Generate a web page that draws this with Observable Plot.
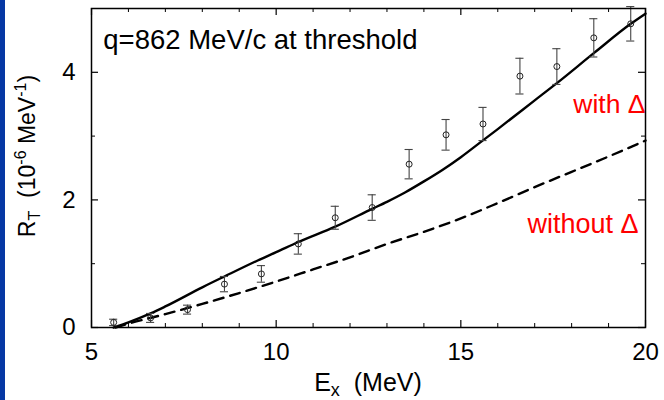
<!DOCTYPE html>
<html><head><meta charset="utf-8">
<script src="https://cdn.jsdelivr.net/npm/d3@7"></script>
<script src="https://cdn.jsdelivr.net/npm/@observablehq/plot@0.6"></script>
<style>
body{margin:0;background:#fff;}
#wrap{position:relative;width:664px;height:400px;overflow:hidden;}
#bar{position:absolute;left:0;top:0;width:5px;height:400px;background:#0638a4;}
svg{position:absolute;left:0;top:0;}
</style></head><body><div id="wrap"><div id="bar"></div></div>
<script>
// measured data points
const ex  = [5.6, 6.6, 7.6, 8.6, 9.6, 10.6, 11.6, 12.6, 13.6, 14.6, 15.6, 16.6, 17.6, 18.6, 19.6];
const rt  = [0.08, 0.15, 0.28, 0.68, 0.84, 1.31, 1.72, 1.88, 2.56, 3.02, 3.19, 3.94, 4.09, 4.54, 4.76];
const err = [0.05, 0.07, 0.07, 0.12, 0.13, 0.16, 0.18, 0.20, 0.23, 0.24, 0.26, 0.28, 0.28, 0.30, 0.27];
// curve "with Delta"
const withX = [5.6, 6.0, 6.6, 7.0, 8.0, 8.6, 9.5, 10.0, 10.6, 11.6, 12.6, 13.0, 13.5, 14.0, 14.5, 15.0, 15.5, 16.0, 17.0, 17.6, 18.6, 19.6, 20.0];
const withY = [0, 0.08, 0.22, 0.33, 0.63, 0.80, 1.05, 1.18, 1.34, 1.58, 1.86, 1.97, 2.12, 2.29, 2.47, 2.67, 2.89, 3.11, 3.56, 3.83, 4.30, 4.76, 4.92];
// curve "without Delta"
const woX = [5.65, 6.0, 7.0, 8.0, 9.0, 10.0, 11.0, 12.0, 13.0, 14.0, 15.0, 16.0, 17.0, 18.0, 19.0, 20.0];
const woY = [0, 0.06, 0.21, 0.37, 0.54, 0.72, 0.91, 1.10, 1.31, 1.50, 1.71, 1.95, 2.20, 2.44, 2.68, 2.93];
// ticks
const xMajor = [5, 10, 15, 20];
const xMinor = [6, 7, 8, 9, 11, 12, 13, 14, 16, 17, 18, 19];
const yMajor = [0, 2, 4];
const yMinor = [1, 3];
const titleText = "q=862 MeV/c at threshold";
const withLabel = "with Δ";
const withoutLabel = "without Δ";

const W = 664, H = 400, mL = 91, mR = 19, mT = 8, mB = 73;
const pw = W - mL - mR, ph = H - mT - mB;
const font = '"Liberation Sans", Arial, Helvetica, sans-serif';

const pts = ex.map((x, i) => ({x, y: rt[i], e: err[i]}));
const withD = withX.map((x, i) => ({x, y: withY[i]}));
const woD = woX.map((x, i) => ({x, y: woY[i]}));

const chart = Plot.plot({
  width: W, height: H,
  marginLeft: mL, marginRight: mR, marginTop: mT, marginBottom: mB,
  style: {fontFamily: font, background: "transparent", color: "black"},
  x: {domain: [5, 20]},
  y: {domain: [0, 5]},
  marks: [
    // inward ticks, all four sides
    Plot.ruleX(xMajor, {insetTop: ph - 7, stroke: "black", strokeWidth: 1.2}),
    Plot.ruleX(xMinor, {insetTop: ph - 4, stroke: "black", strokeWidth: 1}),
    Plot.ruleX(xMajor, {insetBottom: ph - 7, stroke: "black", strokeWidth: 1.2}),
    Plot.ruleX(xMinor, {insetBottom: ph - 4, stroke: "black", strokeWidth: 1}),
    Plot.ruleY(yMajor, {insetRight: pw - 7, stroke: "black", strokeWidth: 1.2}),
    Plot.ruleY(yMinor, {insetRight: pw - 4, stroke: "black", strokeWidth: 1}),
    Plot.ruleY(yMajor, {insetLeft: pw - 7, stroke: "black", strokeWidth: 1.2}),
    Plot.ruleY(yMinor, {insetLeft: pw - 4, stroke: "black", strokeWidth: 1}),
    Plot.axisX({ticks: xMajor, tickSize: 0, tickPadding: 15, fontSize: 24, tickFormat: "d", label: null}),
    Plot.axisY({ticks: yMajor, tickSize: 0, tickPadding: 16, fontSize: 24, tickFormat: "d", label: null}),
    // theory curves
    Plot.line(woD, {x: "x", y: "y", curve: "monotone-x", stroke: "black", strokeWidth: 2.4, strokeDasharray: "10,7"}),
    Plot.line(withD, {x: "x", y: "y", curve: "monotone-x", stroke: "black", strokeWidth: 2.4}),
    // data with error bars
    Plot.ruleX(pts, {x: "x", y1: d => d.y - d.e, y2: d => d.y + d.e, stroke: "#444", strokeWidth: 1.1}),
    Plot.ruleY(pts, {y: d => d.y - d.e, x1: d => d.x - 0.11, x2: d => d.x + 0.11, stroke: "#444", strokeWidth: 1.1}),
    Plot.ruleY(pts, {y: d => d.y + d.e, x1: d => d.x - 0.11, x2: d => d.x + 0.11, stroke: "#444", strokeWidth: 1.1}),
    Plot.dot(pts, {x: "x", y: "y", r: 3, stroke: "#222", strokeWidth: 1, fill: "none"}),
    // annotations
    Plot.text([titleText], {x: 5.32, y: 4.5, text: d => d, textAnchor: "start", fontSize: 27.5, fill: "black"}),
    Plot.text([withLabel], {x: 20, y: 3.5, text: d => d, textAnchor: "end", fontSize: 26.5, fill: "#ff0000"}),
    Plot.text([withoutLabel], {x: 19.81, y: 1.62, text: d => d, textAnchor: "end", fontSize: 27, fill: "#ff0000"}),
    Plot.frame({stroke: "black", strokeWidth: 1.5})
  ]
});

const svg = d3.select(chart);
// x axis title
const xt = svg.append("text")
  .attr("x", mL + pw / 2).attr("y", 391)
  .attr("text-anchor", "middle").attr("font-size", 25).attr("font-family", font).attr("fill", "black");
xt.append("tspan").text("E");
xt.append("tspan").attr("dy", 5).attr("font-size", 18).text("x");
xt.append("tspan").attr("dy", -5).text("\u00a0\u00a0(MeV)");
// y axis title
const yt = svg.append("text")
  .attr("transform", `translate(35,156) rotate(-90)`)
  .attr("text-anchor", "middle").attr("font-size", 23).attr("font-family", font).attr("fill", "black");
yt.append("tspan").text("R");
yt.append("tspan").attr("dy", 5).attr("font-size", 16).text("T");
yt.append("tspan").attr("dy", -5).text("\u00a0\u00a0(10");
yt.append("tspan").attr("dy", -9).attr("font-size", 16).text("-6");
yt.append("tspan").attr("dy", 9).text(" MeV");
yt.append("tspan").attr("dy", -9).attr("font-size", 16).text("-1");
yt.append("tspan").attr("dy", 9).text(")");

document.getElementById("wrap").appendChild(chart);
</script></body></html>
